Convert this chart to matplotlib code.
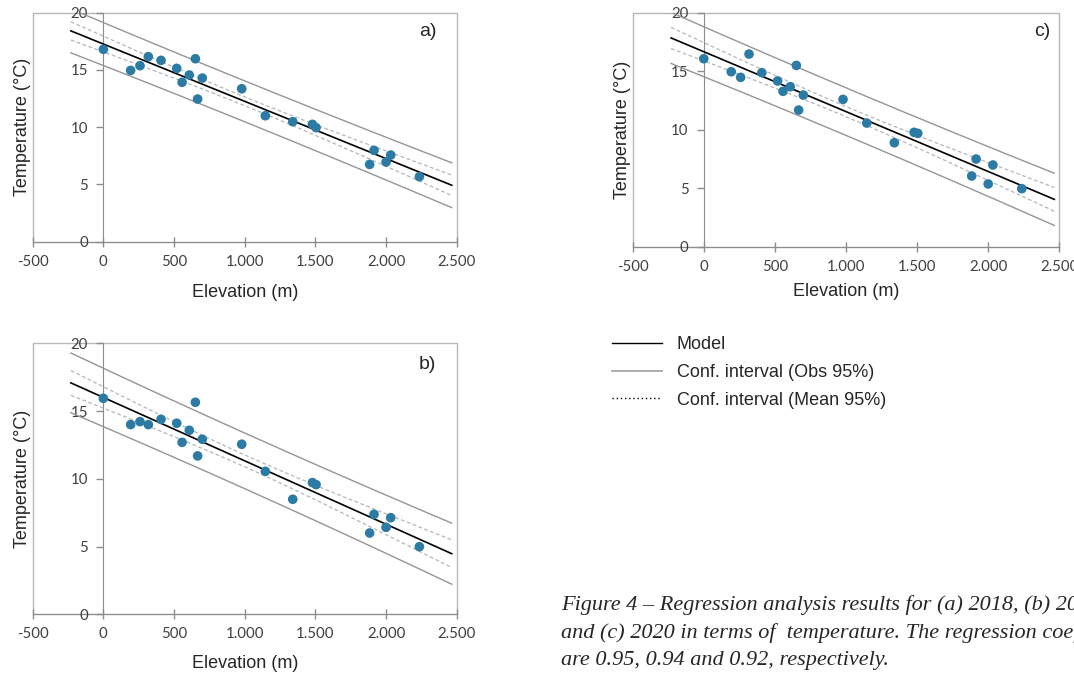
import numpy as np
import matplotlib
matplotlib.use('Agg')
import matplotlib.pyplot as plt
from matplotlib.lines import Line2D
from matplotlib.patches import Rectangle
from matplotlib.ticker import FuncFormatter, FixedLocator

# ---------------- data ----------------
elevation = [0, 193, 259, 318, 408, 519, 557, 608, 651, 667, 700, 979,
             1146, 1340, 1479, 1505, 1884, 1915, 2000, 2033, 2236]
temp_2018 = [16.8, 14.96, 15.37, 16.16, 15.84, 15.14, 13.92, 14.56, 15.98, 12.46,
             14.29, 13.36, 11.0, 10.48, 10.25, 9.96, 6.75, 7.98, 6.96, 7.57, 5.68]
temp_2019 = [15.94, 14.0, 14.22, 14.0, 14.39, 14.1, 12.69, 13.58, 15.65, 11.69,
             12.92, 12.55, 10.55, 8.49, 9.72, 9.57, 6.0, 7.38, 6.42, 7.13, 4.99]
temp_2020 = [16.07, 14.96, 14.48, 16.47, 14.88, 14.17, 13.29, 13.68, 15.5, 11.69,
             12.97, 12.6, 10.58, 8.9, 9.79, 9.70, 6.06, 7.51, 5.38, 7.0, 4.98]
panel_labels = ['a)', 'b)', 'c)']
x_ticks = [-500, 0, 500, 1000, 1500, 2000, 2500]
y_ticks = [0, 5, 10, 15, 20]
legend_labels = ['Model', 'Conf. interval (Obs 95%)', 'Conf. interval (Mean 95%)']
caption_lines = [
    'Figure 4 \u2013 Regression analysis results for (a) 2018, (b) 2019',
    'and (c) 2020 in terms of  temperature. The regression coefficients',
    'are 0.95, 0.94 and 0.92, respectively.',
]
t_975 = 2.093  # Student t, df = 19

W, H = 1074, 680
fig = plt.figure(figsize=(W / 100, H / 100), dpi=100)
fig.patch.set_facecolor('white')

MARK = '#2b7ba4'
FRAME = '#b8b8b8'
AXC = '#8c8c8c'
TICKC = '#404040'
TXT = '#262626'


def px_rect(left, top, right, bottom):
    return [left / W, 1 - bottom / H, (right - left) / W, (bottom - top) / H]


def thousands(v, pos):
    s = f'{abs(int(v)):,}'.replace(',', '.')
    return ('-' if v < 0 else '') + s


def panel(rect, temps, label, lab_xy, xlab_y):
    ax = fig.add_axes(rect)
    x = np.array(elevation, float)
    y = np.array(temps, float)
    n = len(x)
    b, a = np.polyfit(x, y, 1)
    res = y - (a + b * x)
    s = np.sqrt(np.sum(res ** 2) / (n - 2))
    xm = x.mean()
    sxx = np.sum((x - xm) ** 2)
    xx = np.linspace(-230, 2465, 200)
    yy = a + b * xx
    se_m = s * np.sqrt(1 / n + (xx - xm) ** 2 / sxx)
    se_o = s * np.sqrt(1 + 1 / n + (xx - xm) ** 2 / sxx)

    ax.plot(xx, yy + t_975 * se_o, color='#959595', lw=1.0, zorder=2)
    ax.plot(xx, yy - t_975 * se_o, color='#959595', lw=1.0, zorder=2)
    ax.plot(xx, yy + t_975 * se_m, color='#b2b6bc', lw=0.9, ls=(0, (3, 2)), zorder=2)
    ax.plot(xx, yy - t_975 * se_m, color='#b2b6bc', lw=0.9, ls=(0, (3, 2)), zorder=2)
    ax.plot(xx, yy, color='black', lw=1.2, zorder=3)
    ax.scatter(x, y, s=48, color=MARK, edgecolors='none', zorder=4)

    ax.set_xlim(-500, 2500)
    ax.set_ylim(0, 20)
    ax.xaxis.set_major_locator(FixedLocator(x_ticks))
    ax.yaxis.set_major_locator(FixedLocator(y_ticks))
    ax.xaxis.set_major_formatter(FuncFormatter(thousands))

    for sp in ['top', 'right']:
        ax.spines[sp].set_visible(False)
    ax.spines['left'].set_position(('data', 0))
    ax.spines['left'].set_color(AXC)
    ax.spines['bottom'].set_color(AXC)
    ax.spines['left'].set_zorder(1)
    ax.spines['bottom'].set_zorder(1)
    ax.add_patch(Rectangle((0, 0), 1, 1, transform=ax.transAxes, fill=False,
                           edgecolor=FRAME, lw=1.0, zorder=0.5, clip_on=False))

    ax.tick_params(axis='x', direction='inout', length=7, width=1, color=AXC,
                   labelsize=10.8, labelcolor=TICKC, pad=6)
    ax.tick_params(axis='y', direction='out', length=5, width=1, color=AXC,
                   labelsize=10.8, labelcolor=TICKC, pad=6)
    for t in ax.get_xticklabels() + ax.get_yticklabels():
        t.set_fontfamily('Lato')

    ax.set_xlabel('Elevation (m)', fontsize=13, color=TXT, family='Liberation Sans')
    ax.xaxis.set_label_coords(0.5, xlab_y)
    ax.xaxis.label.set_va('center')
    ax.set_ylabel('Temperature (\u00b0C)', fontsize=13, color=TXT, family='Liberation Sans')
    ax.yaxis.label.set_va('center')
    ax.yaxis.set_label_coords(-0.025, 0.5)

    ax.text(lab_xy[0], lab_xy[1], label, transform=ax.transAxes, fontsize=14,
            color=TXT, ha='center', va='center', family='Liberation Sans')
    return ax


panel(px_rect(32.7, 12.7, 456.7, 241.7), temp_2018, panel_labels[0], (0.932, 0.916), -0.22)
panel(px_rect(32.7, 343.3, 456.7, 614.3), temp_2019, panel_labels[1], (0.932, 0.92), -0.183)
panel(px_rect(632.7, 12.7, 1059.3, 247), temp_2020, panel_labels[2], (0.959, 0.918), -0.19)

handles = [Line2D([], [], color='black', lw=1.0),
           Line2D([], [], color='#a8a8a8', lw=1.3),
           Line2D([], [], color='black', lw=1.0, ls=(0, (1, 2)))]
fig.legend(handles, legend_labels, loc='upper left',
           bbox_to_anchor=(612 / W, 1 - 336 / H), frameon=False,
           borderpad=0, borderaxespad=0, handlelength=2.75, handletextpad=0.85,
           labelspacing=0.6, prop={'family': 'Liberation Sans', 'size': 13},
           labelcolor=TXT)

for i, line in enumerate(caption_lines):
    fig.text(561 / W, 1 - (605 + 28 * i) / H, line, fontsize=16, style='italic',
             family='Liberation Serif', color=TXT, ha='left', va='center')

fig.savefig('out.png', dpi=100)
